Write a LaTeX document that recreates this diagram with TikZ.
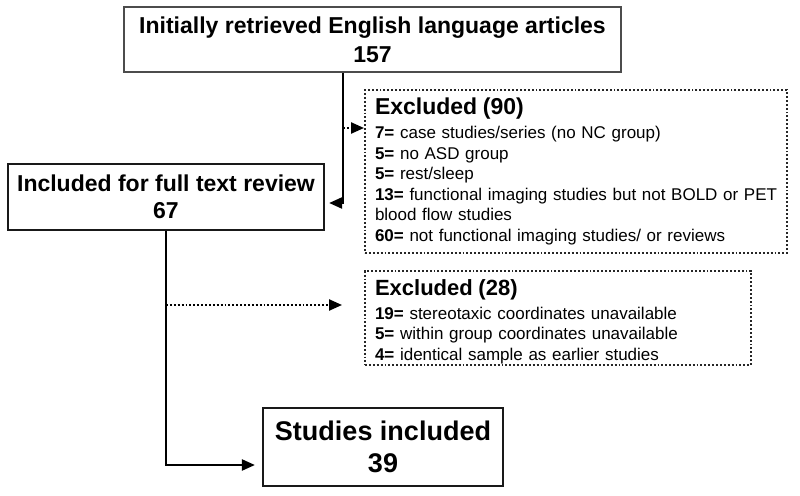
\documentclass[tikz,border=0pt]{standalone}
\usepackage{fontspec}
\setmainfont{Liberation Sans}
\usetikzlibrary{arrows.meta}

\begin{document}
\begin{tikzpicture}[x=1pt,y=-1pt,
    box/.style={draw=black!90,line width=2.2pt,align=center,inner sep=0pt},
    exbox/.style={draw=black!85,line width=1.9pt,dash pattern=on 1.9pt off 2pt,align=left,
        inner xsep=10pt,inner ysep=0pt,font=\fontsize{17}{20.5}\selectfont},
    flow/.style={line width=2.2pt,-{Triangle[length=13pt,width=11pt]}},
    dotflow/.style={flow,dash pattern=on 1.9pt off 2pt}]
  \useasboundingbox (0,0) rectangle (800,495);
  \node[box,line width=1.4pt,draw=black!70,minimum width=497pt,minimum height=65pt,
        font=\bfseries\fontsize{23}{29}\selectfont] (init) at (372.5,39.5)
        {Initially retrieved English language articles\\157};
  \node[box,minimum width=316pt,minimum height=66pt,
        font=\bfseries\fontsize{23}{27}\selectfont] (incl) at (166,197)
        {Included for full text review\\67};
  \node[box,minimum width=240pt,minimum height=78pt,
        font=\bfseries\fontsize{27}{32}\selectfont] (stud) at (383,447)
        {Studies included\\39};
  \node[exbox,text width=402pt,minimum height=163pt] (exc1) at (576,171.5)
        {{\bfseries\fontsize{23}{24}\selectfont Excluded (90)}\\[3.5pt]
         \textbf{7=} case studies/series (no NC group)\\
         \textbf{5=} no ASD group\\
         \textbf{5=} rest/sleep\\
         \mbox{\textbf{13=} functional imaging studies but not BOLD or PET}\\
         blood flow studies\\
         \textbf{60=} not functional imaging studies/ or reviews};
  \node[exbox,text width=366pt,minimum height=94pt] (exc2) at (558,318)
        {\rule{0pt}{24pt}{\bfseries\fontsize{22}{24}\selectfont Excluded (28)}\\[3pt]
         \textbf{19=} stereotaxic coordinates unavailable\\
         \textbf{5=} within group coordinates unavailable\\
         \textbf{4=} identical sample as earlier studies};
  \coordinate (j1) at (343,128);
  \coordinate (j2) at (166,305);
  \draw[flow,shorten >=4pt] (init.south -| j1) |- ([yshift=-6pt]incl.east);
  \draw[dotflow] (j1) -- (j1 -| exc1.west);
  \draw[flow,shorten >=7pt] (incl.south) |- ([yshift=-18pt]stud.west);
  \draw[dotflow,shorten >=22pt] (j2) -- (j2 -| exc2.west);
\end{tikzpicture}
\end{document}
